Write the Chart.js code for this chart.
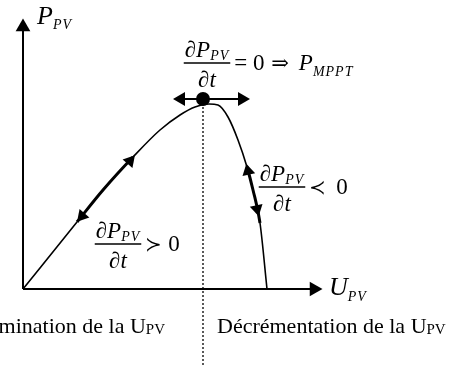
<!DOCTYPE html>
<html>
<head>
<meta charset="utf-8">
<script src="https://cdn.jsdelivr.net/npm/chart.js@4/dist/chart.umd.min.js"></script>
<style>
  html, body { margin: 0; padding: 0; background: #fff; }
  #wrap { width: 457px; height: 365px; }
</style>
</head>
<body>
<div id="wrap"><canvas id="chart" width="457" height="365"></canvas></div>
<script>
// =====================================================
// DONNÉES (unités arbitraires, origine = coin des axes)
// =====================================================
const uCurve = [0, 54, 80, 110, 137, 157, 172, 186, 195, 205, 215, 224, 230, 237, 244];
const pCurve = [0, 67, 99, 132, 159, 174, 182, 185, 184, 172, 149, 122, 99, 66, 0];

// portions en trait gras (perturbation autour du point de fonctionnement)
const thickRanges = [[54, 110], [224, 237]];

// flèches sur la courbe : centre + orientation (degrés)
const arrowU = [107, 59, 225, 234];
const arrowP = [128, 73, 118, 80];
const arrowAngle = [41, 221, -13, 167];

// point MPP et flèches horizontales
const mppU = 180;
const mppP = 190;
const perturbU = [152, 225];
const perturbHeadU = [158, 219];
const perturbAngle = [270, 90];

// axes
const axisUEnd = 300;
const axisPEnd = 271;
const axisHeadU = [0, 291];
const axisHeadP = [262, 0];
const axisHeadAngle = [0, 90];

// domaine des échelles
const uMin = -23, uMax = 434;
const pMin = -76, pMax = 289;

const SERIF = '"Liberation Serif", "Times New Roman", serif';

// =====================================================
// TEXTES
// =====================================================
function font(size, italic) {
  return (italic ? 'italic ' : '') + size + 'px ' + SERIF;
}

function runsWidth(ctx, runs) {
  let w = 0;
  runs.forEach((r) => {
    ctx.font = r.f;
    ctx.letterSpacing = (r.ls || 0) + 'px';
    w += ctx.measureText(r.t).width + (r.gap || 0);
  });
  ctx.letterSpacing = '0px';
  return w;
}

function drawRuns(ctx, runs, x, baseline) {
  runs.forEach((r) => {
    ctx.font = r.f;
    ctx.letterSpacing = (r.ls || 0) + 'px';
    ctx.fillText(r.t, x, baseline + (r.dy || 0));
    x += ctx.measureText(r.t).width + (r.gap || 0);
  });
  ctx.letterSpacing = '0px';
  return x;
}

const numRuns = [
  { t: '\u2202', f: font(23, false) },
  { t: 'P', f: font(23, true) },
  { t: 'PV', f: font(14, true), dy: 3, ls: 1 }
];
const denRuns = [
  { t: '\u2202', f: font(23, false) },
  { t: 't', f: font(23, true) }
];

function drawFraction(ctx, cx, barY, tail) {
  const nw = runsWidth(ctx, numRuns);
  const dw = runsWidth(ctx, denRuns);
  const half = Math.max(nw, dw) / 2 + 1;
  drawRuns(ctx, numRuns, cx - nw / 2, barY - 6);
  drawRuns(ctx, denRuns, cx - dw / 2, barY + 24);
  ctx.lineWidth = 1.3;
  ctx.beginPath();
  ctx.moveTo(cx - half, barY);
  ctx.lineTo(cx + half, barY);
  ctx.stroke();
  if (tail) drawRuns(ctx, tail, cx + half + 4, barY + 7);
}

const labelsPlugin = {
  id: 'labels',
  afterDatasetsDraw(chart) {
    const { ctx, scales: { x, y } } = chart;
    const px = (u) => x.getPixelForValue(u);
    const py = (p) => y.getPixelForValue(p);
    ctx.save();
    ctx.fillStyle = '#000';
    ctx.strokeStyle = '#000';
    ctx.textBaseline = 'alphabetic';
    ctx.textAlign = 'left';

    // noms des axes
    drawRuns(ctx, [
      { t: 'P', f: font(26, true) },
      { t: 'PV', f: font(14, true), dy: 5, ls: 1 }
    ], px(14), py(265));
    drawRuns(ctx, [
      { t: 'U', f: font(26, true) },
      { t: 'PV', f: font(14, true), dy: 6, ls: 1 }
    ], px(306), py(-6));

    // dérivées
    drawFraction(ctx, px(184), py(226), [
      { t: '= 0 ', f: font(23, false), gap: 1 },
      { t: '\u21D2', f: '21px "DejaVu Serif", serif', gap: 10 },
      { t: 'P', f: font(23, true) },
      { t: 'MPPT', f: font(14, true), dy: 6, ls: 1 }
    ]);
    drawFraction(ctx, px(259), py(102), [
      { t: '\u227A', f: font(20, false), gap: 10 },
      { t: '0', f: font(23, false) }
    ]);
    drawFraction(ctx, px(95), py(45), [
      { t: '\u227B', f: font(20, false), gap: 6 },
      { t: '0', f: font(23, false) }
    ]);

    // zones
    const leftRuns = [
      { t: 'mination de la U', f: font(22, false) },
      { t: 'PV', f: font(15, false), dy: 1 }
    ];
    drawRuns(ctx, leftRuns, px(142) - runsWidth(ctx, leftRuns), py(-44));
    drawRuns(ctx, [
      { t: 'D\u00E9cr\u00E9mentation de la U', f: font(22, false) },
      { t: 'PV', f: font(15, false), dy: 1 }
    ], px(194), py(-44));
    ctx.restore();
  }
};

// =====================================================
// GRAPHIQUE
// =====================================================
function isThick(a, b) {
  return thickRanges.some(([lo, hi]) => a >= lo && b <= hi);
}

const curveData = uCurve.map((u, i) => ({ x: u, y: pCurve[i] }));
const curveHeads = arrowU.map((u, i) => ({ x: u, y: arrowP[i] }));
const perturbHeads = perturbHeadU.map((u) => ({ x: u, y: mppP }));
const axisHeads = axisHeadU.map((u, i) => ({ x: u, y: axisHeadP[i] }));

const lineDefaults = {
  showLine: true,
  pointRadius: 0,
  borderColor: '#000',
  fill: false,
  clip: false
};

const headDefaults = {
  showLine: false,
  clip: false,
  pointStyle: 'triangle',
  backgroundColor: '#000',
  borderColor: '#000',
  borderWidth: 0
};

new Chart(document.getElementById('chart'), {
  type: 'scatter',
  data: {
    datasets: [
      {
        ...lineDefaults,
        data: [{ x: mppU, y: mppP }, { x: mppU, y: pMin }],
        borderWidth: 1.3,
        borderDash: [2, 2]
      },
      {
        ...lineDefaults,
        data: [{ x: 0, y: 0 }, { x: 0, y: axisPEnd - 6 }],
        borderWidth: 2
      },
      {
        ...lineDefaults,
        data: [{ x: 0, y: 0 }, { x: axisUEnd - 6, y: 0 }],
        borderWidth: 2
      },
      {
        ...lineDefaults,
        data: curveData,
        borderWidth: 1.6,
        cubicInterpolationMode: 'monotone',
        segment: {
          borderWidth: (ctx) => (isThick(ctx.p0.parsed.x, ctx.p1.parsed.x) ? 3 : 1.6)
        }
      },
      {
        ...lineDefaults,
        data: perturbU.map((u) => ({ x: u, y: mppP })),
        borderWidth: 2
      },
      { ...headDefaults, data: curveHeads, pointRadius: 7.5, pointRotation: arrowAngle },
      { ...headDefaults, data: perturbHeads, pointRadius: 8, pointRotation: perturbAngle },
      { ...headDefaults, data: axisHeads, pointRadius: 8.5, pointRotation: axisHeadAngle },
      {
        ...headDefaults,
        data: [{ x: mppU, y: mppP }],
        pointStyle: 'circle',
        pointRadius: 7
      }
    ]
  },
  options: {
    responsive: false,
    animation: false,
    devicePixelRatio: 1,
    layout: { padding: 0, autoPadding: false },
    plugins: {
      legend: { display: false },
      tooltip: { enabled: false }
    },
    scales: {
      x: { type: 'linear', display: false, min: uMin, max: uMax },
      y: { type: 'linear', display: false, min: pMin, max: pMax }
    }
  },
  plugins: [labelsPlugin]
});
</script>
</body>
</html>
